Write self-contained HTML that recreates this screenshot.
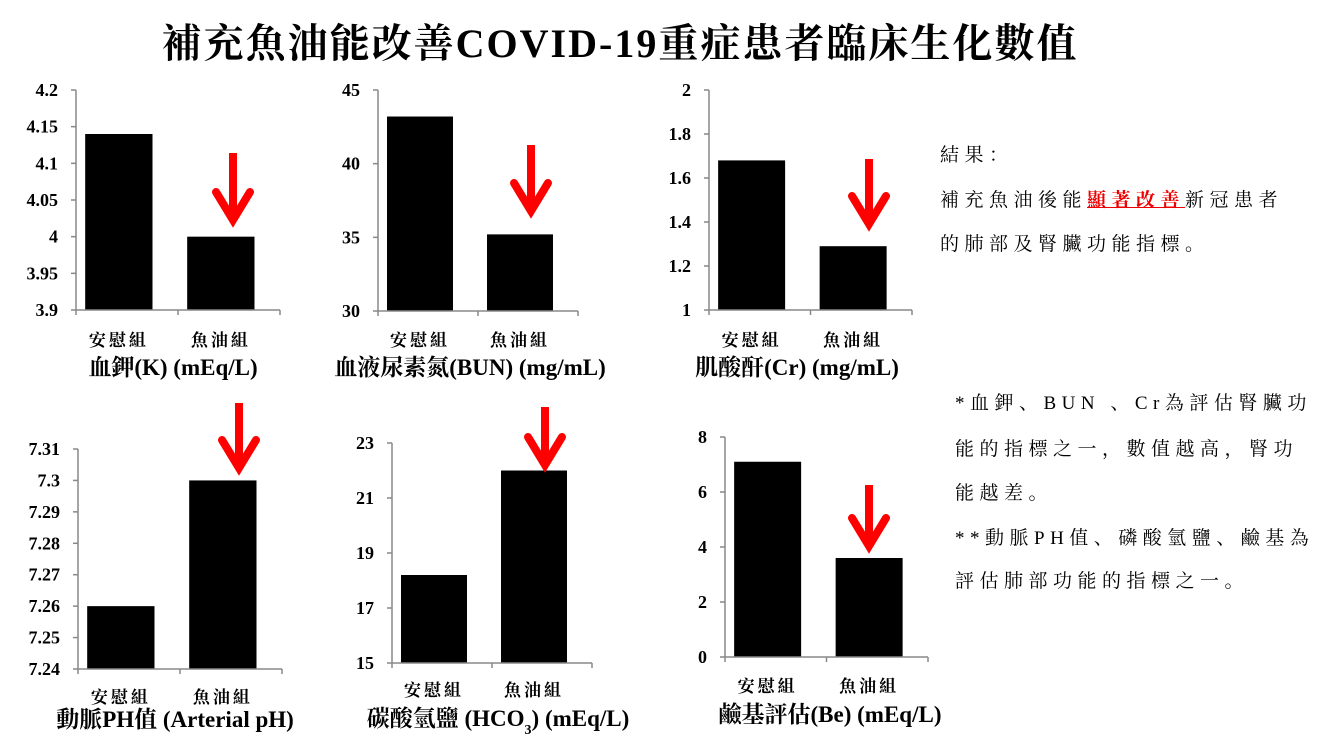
<!DOCTYPE html>
<html><head><meta charset="utf-8"><style>
body{margin:0;width:1334px;height:750px;background:#fff;overflow:hidden;position:relative;font-family:"Liberation Serif","Noto Serif CJK SC",serif}
.t{position:absolute;white-space:nowrap;font-size:19px;letter-spacing:5.5px;color:#000;font-family:"Liberation Serif","Noto Serif CJK SC","Noto Sans CJK TC",serif}
</style></head><body>
<div style="position:absolute;left:0;width:1240px;top:12px;text-align:center;font-weight:bold;font-size:40px;letter-spacing:2px;font-family:'Liberation Serif','Noto Serif CJK SC',serif">補充魚油能改善COVID-19重症患者臨床生化數值</div>
<div class="t" style="left:940px;top:140px">結果：</div>
<div class="t" style="left:940px;top:185px">補充魚油後能<span style="color:#e00;font-weight:bold;text-decoration:underline">顯著改善</span>新冠患者</div>
<div class="t" style="left:940px;top:229px">的肺部及腎臟功能指標。</div>
<div class="t" style="left:955px;top:388px">*血鉀、BUN 、Cr為評估腎臟功</div>
<div class="t" style="left:955px;top:434px">能的指標之一，數值越高，腎功</div>
<div class="t" style="left:955px;top:478px">能越差。</div>
<div class="t" style="left:955px;top:523px">**動脈PH值、磷酸氫鹽、鹼基為</div>
<div class="t" style="left:955px;top:566px">評估肺部功能的指標之一。</div>
<svg id="s" width="1334" height="750" style="position:absolute;left:0;top:0"></svg>
<script>
const categories=["安慰組","魚油組"];
const kValues=[4.14,4.00];
const kTicks=["3.9","3.95","4","4.05","4.1","4.15","4.2"];
const bunValues=[43.2,35.2];
const bunTicks=["30","35","40","45"];
const crValues=[1.68,1.29];
const crTicks=["1","1.2","1.4","1.6","1.8","2"];
const phValues=[7.26,7.30];
const phTicks=["7.24","7.25","7.26","7.27","7.28","7.29","7.3","7.31"];
const hco3Values=[18.2,22.0];
const hco3Ticks=["15","17","19","21","23"];
const beValues=[7.1,3.6];
const beTicks=["0","2","4","6","8"];
const titles=["血鉀(K) (mEq/L)","血液尿素氮(BUN) (mg/mL)","肌酸酐(Cr) (mg/mL)","動脈PH值 (Arterial pH)","碳酸氫鹽 (HCO<tspan baseline-shift='sub' font-size='14'>3</tspan>) (mEq/L)","鹼基評估(Be) (mEq/L)"];
const NS="http://www.w3.org/2000/svg";
const svg=document.getElementById('s');
function mk(tag,attrs,parent){const e=document.createElementNS(NS,tag);for(const k in attrs)e.setAttribute(k,attrs[k]);(parent||svg).appendChild(e);return e;}
const charts=[
 {v:kValues,t:kTicks,ax:76,top:90,bot:310,w:204,catY:346,titY:375,titX:173,arrow:[233,153,222],name:'potassium'},
 {v:bunValues,t:bunTicks,ax:378,top:90,bot:311,w:200,catY:346,titY:375,titX:470,arrow:[531,145,213],name:'bun'},
 {v:crValues,t:crTicks,ax:709,top:90,bot:310,w:203,catY:346,titY:375,titX:797,arrow:[869,159,226],name:'creatinine'},
 {v:phValues,t:phTicks,ax:78,top:449,bot:669,w:204,catY:703,titY:727,titX:175,arrow:[239,403,470],name:'arterial-ph'},
 {v:hco3Values,t:hco3Ticks,ax:392,top:443,bot:663,w:200,catY:696,titY:726,titX:498,arrow:[545,407,467],name:'hco3'},
 {v:beValues,t:beTicks,ax:725,top:437,bot:657,w:203,catY:692,titY:722,titX:830,arrow:[869,485,548],name:'base-excess'}
];
charts.forEach((c,i)=>{
 const g=mk('g',{});
 
 
 const mn=parseFloat(c.t[0]),mx=parseFloat(c.t[c.t.length-1]);
 const y=v=>c.bot-(v-mn)/(mx-mn)*(c.bot-c.top);
 const band=c.w/categories.length;
 const bx=k=>c.ax+band*k+band*0.09;
 const bw=band*0.66;
 c.v.forEach((v,k)=>{
  const r=mk('rect',{x:bx(k),y:y(v),width:bw,height:c.bot-y(v),fill:'#000'},g);
  
  
 });
 const axis=mk('path',{d:`M${c.ax},${c.top}V${c.bot}H${c.ax+c.w}`,stroke:'#888',fill:'none','stroke-width':1.5},g);
 
 
 for(let k=0;k<=categories.length;k++)mk('line',{x1:c.ax+band*k,x2:c.ax+band*k,y1:c.bot,y2:c.bot+5,stroke:'#888','stroke-width':1.5},g);
 c.t.forEach(t=>{
  const yy=y(parseFloat(t));
  mk('line',{x1:c.ax-5,x2:c.ax,y1:yy,y2:yy,stroke:'#888','stroke-width':1.5},g);
  const tx=mk('text',{x:c.ax-18,y:yy+6,'text-anchor':'end','font-size':18,'font-weight':'bold','font-family':'Liberation Serif,serif'},g);
  tx.textContent=t;
  
  
 });
 categories.forEach((cat,k)=>{
  const tx=mk('text',{x:bx(k)+bw/2,y:c.catY,'text-anchor':'middle','font-size':17,'font-weight':'bold','letter-spacing':3,'font-family':'Noto Serif CJK SC,serif'},g);
  tx.textContent=cat;
  
  
 });
 const tt=mk('text',{x:c.titX,y:c.titY,'text-anchor':'middle','font-size':23,'font-weight':'bold','font-family':'Liberation Serif,Noto Serif CJK SC,serif'},g);
 tt.innerHTML=titles[i];
 
 
 const [ax,a1,a2]=c.arrow;
 const ar=mk('g',{},g);
 
 
 mk('line',{x1:ax,x2:ax,y1:a1,y2:a2-6,stroke:'#f00','stroke-width':8},ar);
 mk('path',{d:`M${ax-17},${a2-30}L${ax},${a2-2}L${ax+17},${a2-30}`,stroke:'#f00','stroke-width':8,fill:'none','stroke-linecap':'round'},ar);
});
</script>
</body></html>
